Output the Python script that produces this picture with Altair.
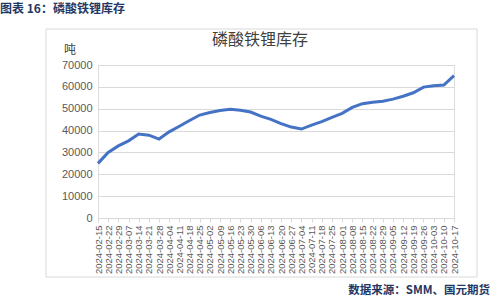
import altair as alt
import pandas as pd

dates = ["2024-02-15","2024-02-22","2024-02-29","2024-03-07","2024-03-14","2024-03-21",
         "2024-03-28","2024-04-04","2024-04-11","2024-04-18","2024-04-25","2024-05-02",
         "2024-05-09","2024-05-16","2024-05-23","2024-05-30","2024-06-06","2024-06-13",
         "2024-06-20","2024-06-27","2024-07-04","2024-07-11","2024-07-18","2024-07-25",
         "2024-08-01","2024-08-08","2024-08-15","2024-08-22","2024-08-29","2024-09-05",
         "2024-09-12","2024-09-19","2024-09-26","2024-10-03","2024-10-10","2024-10-17"]
inventory = [25000, 30000, 33000, 35300, 38400, 37900, 36100, 39400, 42000, 44600,
             47100, 48300, 49200, 49700, 49300, 48500, 46600, 45100, 43200, 41600,
             40700, 42500, 44100, 46000, 47900, 50600, 52300, 53000, 53400, 54400,
             55700, 57300, 59900, 60500, 60800, 65100]
y_ticks = [0, 10000, 20000, 30000, 40000, 50000, 60000, 70000]

df = pd.DataFrame({"date": dates, "value": inventory})
FONT = "Noto Sans CJK SC"

line = alt.Chart(df).mark_line(color="#4472C4", strokeWidth=3).encode(
    x=alt.X("date:O", sort=None,
            scale=alt.Scale(type="point", padding=0),
            axis=alt.Axis(title=None, labelAngle=270, labelAlign="right", labelBaseline="middle",
                          labelFontSize=9.5, labelColor="#595959", labelFont="Liberation Sans",
                          domainColor="#d9d9d9", tickColor="#d9d9d9", tickSize=4,
                          labelPadding=3, grid=False, labelOverlap=False)),
    y=alt.Y("value:Q", scale=alt.Scale(domain=[0, 70000]),
            axis=alt.Axis(title=None, values=y_ticks, labelFontSize=11, labelColor="#595959",
                          labelFont="Liberation Sans", gridColor="#d9d9d9", domain=False,
                          ticks=False, labelPadding=6, format="d")),
)

def txt(s, x, y, size, color, align="left", weight="normal"):
    return alt.Chart(pd.DataFrame({"t": [s]})).mark_text(
        text=s, fontSize=size, color=color, align=align, baseline="middle",
        font=FONT, fontWeight=weight
    ).encode(x=alt.value(x), y=alt.value(y))

box = alt.Chart(pd.DataFrame({"a": [0]})).mark_rect(
    fill=None, stroke="#d9d9d9", strokeWidth=1
).encode(x=alt.value(-52), x2=alt.value(379), y=alt.value(-36), y2=alt.value(212))

title = txt("磷酸铁锂库存", 162, -25, 16, "#404040", align="center")
unit = txt("吨", -34, -15, 12, "#404040")
header = txt("图表 16：磷酸铁锂库存", -98, -56, 12, "#1F3864", weight="bold")
footer = txt("数据来源：SMM、国元期货", 392, 226, 11.5, "#1F3864", align="right", weight="bold")

chart = alt.layer(box, line, title, unit, header, footer).properties(
    width=356, height=153,
    padding={"left": 98, "top": 65, "right": 46, "bottom": 82},
    autosize=alt.AutoSizeParams(type="none"),
).configure_view(stroke=None).configure(background="white")

chart.save("out.html", embed_options={"renderer": "svg", "actions": False})
